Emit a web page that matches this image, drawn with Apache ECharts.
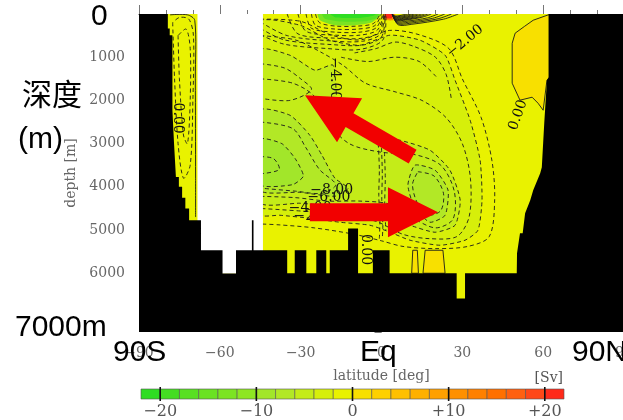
<!DOCTYPE html>
<html><head><meta charset="utf-8">
<script src="https://cdn.jsdelivr.net/npm/echarts@6/dist/echarts.min.js"></script>
<style>html,body{margin:0;padding:0;background:#fff}#c{width:623px;height:420px}</style>
</head><body><div id="c"></div>
<script>
// ---------- axes ----------
const latMin = -90, latMax = 90, latStep = 30;
const depthMin = 0, depthMax = 7360, depthStep = 1000;
const depthLabelsShown = [1000, 2000, 3000, 4000, 5000, 6000];

// ---------- colour scale [Sv] ----------
const levelEdges = [-22,-20,-18,-16,-14,-12,-10,-8,-6,-4,-2,0,2,4,6,8,10,12,14,16,18,20,22];
const levelColors = ['#2edd22','#44dd22','#58e022','#6ae222','#7ce422','#8ee622','#a2e62a','#b2e826','#c4ec18','#d6ef0a','#e9f200',
                     '#f8e000','#fed000','#ffc000','#ffb000','#ffa000','#ff9000','#ff8000','#ff7000','#ff6010','#ff4818','#ff2a1a'];
const colorbarLabelValues = [-20, -10, 0, 10, 20];
const colorbarLabelTexts = ['\u221220', '\u221210', '0', '+10', '+20'];

// ---------- filled streamfunction regions [lat, depth] ----------
const wholeSection = [[-90,0],[90,0],[90,7360],[-90,7360]];              // -2..0
const northPositive = [[61.9,20],[62.5,20],[62.5,1463],[61.4,1532],[60.0,2227],[58.1,2065],[55.9,1926],[51.4,1995],[48.5,1602],[48.5,676],[49.6,444],[53,290],[56.3,144]]; // 0..2
const bottomPositive1 = [[11.2,6000],[11.6,5468],[13.3,5468],[13.7,6000]];
const bottomPositive2 = [[15.4,6000],[16.2,5468],[22.8,5468],[23.6,6000]];
const belowMinus2 = [[-45,190],[-30.3,259],[-19.1,607],[-8,722],[3.2,490],[14.3,607],[23.6,954],[27.3,1532],[32.9,2459],[36.6,3385],[37.3,4310],[35.8,5005],[31,5236],[21.7,5352],[10.6,5236],[3.2,5051],[-4.3,4889],[-15.4,4820],[-26.6,4727],[-37.7,4658],[-45,4635]];
const belowMinus4 = [[-45,838],[-34,954],[-24.7,1301],[-18,1185],[-16.5,1996],[-13.6,2575],[-4.3,2806],[6.9,2922],[18,3153],[25.4,3616],[29.2,4310],[27.3,4889],[19.9,5051],[10.6,4889],[1.3,4658],[-8,4496],[-17.3,4450],[-30.3,4380],[-45,4357]];
const belowMinus6West = [[-45,2227],[-34,2343],[-26.6,2806],[-22.1,3269],[-17.3,3801],[-12.4,4033],[-17.3,4218],[-30.3,4126],[-45,4079]];
const belowMinus6East = [[12.4,3500],[19.9,3616],[24.7,4079],[23.6,4658],[18,4820],[12.4,4496],[9.8,3963]];
const belowMinus8 = [[-45,2900],[-37,3000],[-32,3350],[-29,3750],[-33,3950],[-45,3950]];
const surfaceMinus10 = [[-23.6,-10],[-22.8,144],[-17.3,259],[-9.8,259],[-3.5,190],[-0.2,-10]];
const surfaceMinus16 = [[-22,-10],[-21,110],[-15,175],[-6,170],[-2,100],[-1,-10]];
const surfaceMinus20 = [[-19,-10],[-17,80],[-8,90],[-3,40],[-2,-10]];
const surfacePlus10 = [[0.8,-10],[1,130],[4.5,140],[5,-10]];
const surfacePlus20 = [[1.3,-10],[1.5,90],[3.9,100],[4,-10]];

const fillRegions = [wholeSection, northPositive, bottomPositive1, bottomPositive2, belowMinus2, belowMinus4,
  belowMinus6West, belowMinus6East, belowMinus8, surfaceMinus10, surfaceMinus16, surfaceMinus20, surfacePlus10, surfacePlus20];
const fillValues = [-1, 1, 1, 1, -3, -5, -7, -7, -9, -13, -17, -21, 11, 21];
const fillOutline = ['none','solid','solid','solid','dash','dash','dash','dash','dash','none','none','none','none','none'];

// ---------- extra contour lines ----------
const interiorContours = [
  [[-45,120],[-30,170],[-19,480],[-8,600],[3,380],[14,480],[25,800],[30,1500],[37,2400],[41,3400],[42,4300],[40,5150],[32,5380],[20,5430],[8,5380],[0,5250],[-10,5100],[-25,4950],[-38,4880],[-45,4860]],
  [[-45,500],[-32,600],[-22,900],[-14,1200],[-6,1600],[5,1800],[15,2000],[24,2400],[30,3000],[33,3800],[32.5,4700],[28,5150],[18,5200],[8,5100],[-2,4800],[-15,4640],[-30,4560],[-45,4500]],
  [[-45,1500],[-33,1600],[-25,1900],[-20,2500],[-12,3000],[0,3200],[12,3250],[22,3500],[27,4100],[26.5,4750],[20,4950],[11,4700],[3,4400],[-8,4330],[-20,4330],[-32,4250],[-45,4220]],
  [[-45,2500],[-33,2650],[-28,3100],[-23,3600],[-17,3950],[-22,4150],[-32,4100],[-45,4030]],
  [[13.5,3650],[19.5,3750],[23,4150],[22,4550],[17.5,4650],[13.5,4400],[11.5,3950],[13.5,3650]],
  [[-10,900],[-2,800],[5,650],[12,750],[20,1000],[24,1400],[26,2000]],
  [[-15,1000],[-5,1100],[5,1000],[14,1100],[21,1500]],
  [[-45,1150],[-36,1250],[-30,1500],[-26,1750],[-34,2000],[-45,1950]],
  [[-45,3300],[-40,3350],[-38,3600],[-45,3700]]
];
const westSurfaceContours = [
  [[-24.5,0],[-23,200],[-17,280],[-9,280],[-3,220],[-0.5,0]],
  [[-26,0],[-24.5,260],[-17,350],[-9,350],[-2.5,270],[0,0]],
  [[-28,0],[-26,330],[-17,420],[-8,420],[-2,320],[0.5,0]],
  [[-31,0],[-28,400],[-17,490],[-8,490],[-1.5,370],[0.8,0]],
  [[-35,0],[-31,460],[-17,560],[-7,560],[-1,420],[1,0]],
  [[-45,180],[-35,500],[-17,630],[-7,630],[-0.5,470],[1.2,0]],
  [[-45,330],[-36,600],[-18,710],[-7,720],[0,530],[1.4,0]],
  [[-45,480],[-36,700],[-20,800],[-8,820],[0.5,600],[1.6,0]]
];
const eastSurfaceContours = [
  [[4,0],[5,45],[6.5,40],[8,20],[9.5,0]],
  [[4,0],[5,60],[7,55],[9,30],[11,0]],
  [[4,0],[5,75],[7.5,70],[10,38],[12.2,0]],
  [[4,0],[5,90],[8,85],[11,45],[13.5,0]],
  [[4,0],[5.1,105],[8.2,100],[12,52],[14.8,0]],
  [[4,0],[5.2,120],[8.5,115],[13,60],[16,0]],
  [[4,0],[5.3,135],[8.8,128],[14,68],[17.2,0]],
  [[4,0],[5.4,150],[9,140],[15,75],[18.5,0]],
  [[4,0],[5.6,175],[9.5,165],[17,90],[21,0]],
  [[4,0],[5.8,200],[10,190],[19,100],[23.5,0]],
  [[4,0],[6,225],[10.5,215],[21,110],[26,0]],
  [[4,0],[6.2,250],[11,240],[23,120],[28.5,0]]
];
const equatorContours = [
  [[-1.2,3000],[-0.8,3600],[-1,4200],[-0.6,4800],[-0.8,5200]],
  [[0,3100],[0.3,3700],[0.1,4300],[0.5,4900],[0.3,5200]],
  [[1.1,3200],[1.4,3800],[1.2,4400],[1.6,5000]]
];
const southStripDashed = [
  [[-77.5,200],[-76.8,1500],[-75.5,3000],[-73.5,3800],[-71,3500],[-70,2000],[-69.8,500],[-71.5,120],[-75,80],[-77.5,200]],
  [[-75.5,500],[-75,1500],[-73.5,2800],[-72,3000],[-71,2000],[-71,800],[-72.5,350],[-75.5,500]]
];
const southStripZero = [[-78.5,20],[-72,20],[-69.3,150],[-69.1,1500],[-69,3800],[-69,4700]];

// ---------- contour labels: text, lat, depth, angle ----------
const contourLabels = [
  ['\u22124.00', -17.3, 1500, -90],
  ['\u22122.00', 31, 630, 40],
  ['0.00', 50.7, 2340, 70],
  ['0.00', -75.8, 2410, -90],
  ['\u22128.00', -18.5, 4080, 0],
  ['\u22126.00', -19.5, 4240, 0],
  ['\u22124.00', -26.5, 4490, 0],
  ['\u22122.00', -24.7, 4690, 0],
  ['0.00', -6, 5450, -90]
];

// ---------- topography / masks ----------
const waterBoundary = [
  [-79.3,0],[-79.3,336],[-78.6,336],[-78.6,491],[-77.6,491],[-77.6,2227],[-77.0,2991],[-76.3,3770],
  [-75.2,3770],[-75.2,4000],[-74.0,4000],[-74.0,4250],[-72.8,4250],[-72.8,4500],[-71.4,4500],[-71.4,4773],
  [-67.0,4773],[-67.0,5468],[-59.0,5468],[-59.0,6007],[-54.0,6007],[-54.0,5468],
  [-48.1,5468],[-48.1,4773],[-47.5,4773],[-47.5,5468],
  [-35.0,5468],[-35.0,6000],[-32.2,6000],[-32.2,5468],
  [-27.9,5468],[-27.9,6000],[-24.2,6000],[-24.2,5468],
  [-20.5,5468],[-20.5,6000],[-19.2,6000],[-19.2,5468],
  [-12.4,5468],[-12.4,4965],[-8.7,4965],[-8.7,6000],
  [-3.2,6000],[-3.2,5468],[3.0,5468],[3.0,6000],
  [27.9,6000],[27.9,6586],[31.0,6586],[31.0,6000],
  [50.2,6000],[50.3,5537],[51.4,5074],[52.4,5074],[53.3,4611],[55.2,4310],[56.3,4079],[58.9,3685],[59.5,3546],
  [60.4,2530],[61.4,1532],[62.0,1463],[62.0,0]
];
const undefinedRegion = [[-68.3,0],[-44,0],[-44,6010],[-68.3,6010]];

// ---------- arrows (annotation) ----------
const arrowUpLeft = [[-28.4,1880],[-7.2,1949],[-10.4,2299],[13.0,3144],[10.1,3463],[-13.3,2618],[-16.5,2968]];
const arrowRight = [[-26.6,4380],[2.4,4380],[2.4,4010],[21.0,4588],[2.4,5167],[2.4,4797],[-26.6,4797]];

// ================= build =================
const chart = echarts.init(document.getElementById('c'), null, {renderer: 'canvas'});
const minus = v => v < 0 ? '\u2212' + (-v) : String(v);
const colorOf = v => levelColors[Math.max(0, Math.min(levelColors.length - 1, Math.floor((v - levelEdges[0]) / (levelEdges[1] - levelEdges[0]))))];
const ptsOf = (api, arr) => arr.map(p => api.coord(p));
const dashStyle = {stroke: '#1a1a1a', lineWidth: 0.9, lineDash: [4, 3], fill: null};
const solidStyle = {stroke: '#1a1a1a', lineWidth: 0.9, fill: null};

const blackPolygon = [[-90,0],[-90,depthMax],[90,depthMax],[90,0]].concat(waterBoundary.slice().reverse());

const polylines = [];
interiorContours.forEach(l => polylines.push([l, 'dash']));
westSurfaceContours.forEach(l => polylines.push([l, 'dash']));
eastSurfaceContours.forEach(l => polylines.push([l, 'solid']));
equatorContours.forEach(l => polylines.push([l, 'dash']));
southStripDashed.forEach(l => polylines.push([l, 'dash']));
polylines.push([southStripZero, 'solid']);

const serif = '"DejaVu Serif", "Liberation Serif", serif';
const big = '30px "Liberation Sans", "Noto Sans CJK SC", sans-serif';

const option = {
  animation: false,
  backgroundColor: '#fff',
  grid: [
    {left: 139, top: 14, width: 485, height: 318, outerBoundsMode: 'none', containLabel: false},
    {left: 141, top: 389, width: 423, height: 10, outerBoundsMode: 'none', containLabel: false}
  ],
  xAxis: [
    {gridIndex: 0, type: 'value', min: latMin, max: latMax, interval: latStep, position: 'bottom',
     axisLine: {lineStyle: {color: '#777'}}, axisTick: {length: 7, lineStyle: {color: '#777'}},
     minorTick: {show: true, splitNumber: 3, length: 4, lineStyle: {color: '#777'}},
     splitLine: {show: false},
     axisLabel: {fontFamily: serif, fontSize: 14, color: '#666', margin: 14, formatter: minus},
     name: 'latitude [deg]', nameLocation: 'middle', nameGap: 37,
     nameTextStyle: {fontFamily: serif, fontSize: 14, color: '#666'}},
    {gridIndex: 0, type: 'value', min: latMin, max: latMax, interval: latStep, position: 'top',
     axisLine: {lineStyle: {color: '#777'}}, axisTick: {length: 9, lineStyle: {color: '#777'}},
     minorTick: {show: true, splitNumber: 3, length: 4, lineStyle: {color: '#777'}},
     splitLine: {show: false}, axisLabel: {show: false}},
    {gridIndex: 1, type: 'value', min: levelEdges[0], max: levelEdges[levelEdges.length - 1],
     axisLine: {show: false}, axisTick: {show: false}, splitLine: {show: false},
     axisLabel: {customValues: colorbarLabelValues, fontFamily: serif, fontSize: 16, color: '#555', margin: 5,
       formatter: v => colorbarLabelTexts[colorbarLabelValues.indexOf(v)]}}
  ],
  yAxis: [
    {gridIndex: 0, type: 'value', min: depthMin, max: depthMax, interval: depthStep, inverse: true,
     axisLine: {lineStyle: {color: '#777'}}, axisTick: {length: 7, lineStyle: {color: '#777'}},
     minorTick: {show: true, splitNumber: 2, length: 4, lineStyle: {color: '#777'}},
     splitLine: {show: false},
     axisLabel: {fontFamily: serif, fontSize: 14, color: '#666', margin: 14,
       formatter: v => depthLabelsShown.indexOf(v) >= 0 ? String(v) : ''},
     name: 'depth [m]', nameLocation: 'middle', nameGap: 60, nameRotate: 90,
     nameTextStyle: {fontFamily: serif, fontSize: 14, color: '#666'}},
    {gridIndex: 1, type: 'value', min: 0, max: 1, show: false}
  ],
  series: [
    {type: 'custom', name: 'fills', xAxisIndex: 0, yAxisIndex: 0, clip: true, silent: true, z: 2,
     data: fillRegions.map((_, i) => [0, 0, i]),
     renderItem: (params, api) => {
       const i = params.dataIndex;
       const o = fillOutline[i];
       const style = {fill: colorOf(fillValues[i]), stroke: o === 'none' ? null : '#1a1a1a', lineWidth: 0.9};
       if (o === 'dash') style.lineDash = [4, 3];
       return {type: 'polygon', shape: {points: ptsOf(api, fillRegions[i]), smooth: o === 'solid' ? 0 : 0.2}, style};
     }},
    {type: 'custom', name: 'contours', xAxisIndex: 0, yAxisIndex: 0, clip: true, silent: true, z: 3,
     data: polylines.map((_, i) => [0, 0, i]),
     renderItem: (params, api) => {
       const l = polylines[params.dataIndex];
       return {type: 'polyline', shape: {points: ptsOf(api, l[0]), smooth: 0.3},
               style: l[1] === 'dash' ? dashStyle : solidStyle};
     }},
    {type: 'custom', name: 'labels', xAxisIndex: 0, yAxisIndex: 0, clip: true, silent: true, z: 4,
     data: contourLabels.map((_, i) => [0, 0, i]),
     renderItem: (params, api) => {
       const c = contourLabels[params.dataIndex];
       const p = api.coord([c[1], c[2]]);
       return {type: 'text', x: p[0], y: p[1], rotation: c[3] * Math.PI / 180,
               style: {text: c[0], fill: '#111', font: '14px ' + serif, align: 'center', verticalAlign: 'middle'}};
     }},
    {type: 'custom', name: 'masks', xAxisIndex: 0, yAxisIndex: 0, clip: true, silent: true, z: 5,
     data: [[0, 0, 0], [0, 0, 1]],
     renderItem: (params, api) => params.dataIndex === 0
       ? {type: 'polygon', shape: {points: ptsOf(api, undefinedRegion)}, style: {fill: '#fff'}}
       : {type: 'polygon', shape: {points: ptsOf(api, blackPolygon)}, style: {fill: '#000'}}},
    {type: 'custom', name: 'arrows', xAxisIndex: 0, yAxisIndex: 0, clip: true, silent: true, z: 6,
     data: [[0, 0, 0], [0, 0, 1]],
     renderItem: (params, api) => ({type: 'polygon',
       shape: {points: ptsOf(api, params.dataIndex === 0 ? arrowUpLeft : arrowRight)}, style: {fill: '#f20000'}})},
    {type: 'custom', name: 'colorbar', xAxisIndex: 2, yAxisIndex: 1, silent: true, z: 2,
     data: levelColors.map((_, i) => [0, 0, i]),
     renderItem: (params, api) => {
       const i = params.dataIndex;
       const a = api.coord([levelEdges[i], 1]), b = api.coord([levelEdges[i + 1], 0]);
       return {type: 'rect', shape: {x: a[0], y: a[1], width: b[0] - a[0], height: b[1] - a[1]},
               style: {fill: levelColors[i], stroke: '#555', lineWidth: 0.6}};
     }},
    {type: 'custom', name: 'colorbarTicks', xAxisIndex: 2, yAxisIndex: 1, silent: true, z: 3,
     data: colorbarLabelValues.map((_, i) => [0, 0, i]),
     renderItem: (params, api) => {
       const v = colorbarLabelValues[params.dataIndex];
       const a = api.coord([v, 1]), b = api.coord([v, 0]);
       return {type: 'line', shape: {x1: a[0], y1: a[1] - 2, x2: b[0], y2: b[1] + 2}, style: {stroke: '#111', lineWidth: 1.6}};
     }}
  ],
  graphic: [
    {type: 'text', x: 563, y: 378, z: 10, style: {text: '[Sv]', font: '14px ' + serif, fill: '#555', align: 'right', verticalAlign: 'middle'}},
    {type: 'text', x: 91, y: 17, z: 10, style: {text: '0', font: big, fill: '#000', verticalAlign: 'middle'}},
    {type: 'text', x: 22, y: 97, z: 10, style: {text: '深度', font: big, fill: '#000', verticalAlign: 'middle'}},
    {type: 'text', x: 18, y: 140, z: 10, style: {text: '(m)', font: big, fill: '#000', verticalAlign: 'middle'}},
    {type: 'text', x: 15, y: 328, z: 10, style: {text: '7000m', font: big, fill: '#000', verticalAlign: 'middle'}},
    {type: 'text', x: 113, y: 353, z: 10, style: {text: '90S', font: big, fill: '#000', verticalAlign: 'middle'}},
    {type: 'text', x: 360, y: 353, z: 10, style: {text: 'Eq', font: big, fill: '#000', verticalAlign: 'middle'}},
    {type: 'text', x: 572, y: 353, z: 10, style: {text: '90N', font: big, fill: '#000', verticalAlign: 'middle'}}
  ]
};
chart.setOption(option);
</script></body></html>
